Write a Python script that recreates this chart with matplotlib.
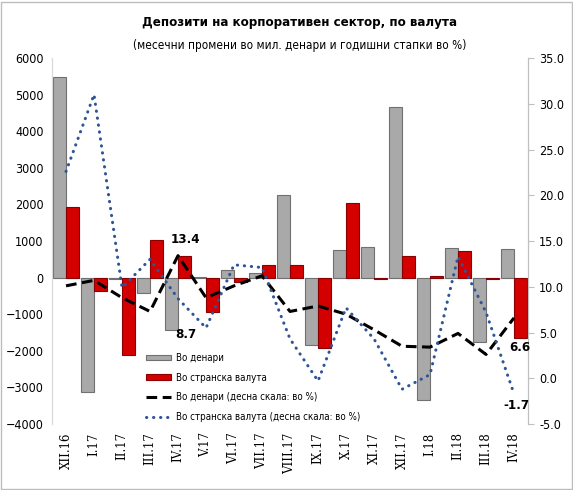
import matplotlib
matplotlib.use("Agg")
import matplotlib.pyplot as plt
import numpy as np

months = ["XII.16", "I.17", "II.17", "III.17", "IV.17", "V.17", "VI.17", "VII.17",
          "VIII.17", "IX.17", "X.17", "XI.17", "XII.17", "I.18", "II.18", "III.18", "IV.18"]

# monthly changes, mil. denars (left axis)
denars = [5480, -3120, -40, -420, -1430, 30, 210, 125,
          2260, -1840, 760, 840, 4670, -3340, 800, -1750, 780]
foreign = [1930, -360, -2110, 1030, 580, -940, -110, 345,
           345, -1930, 2040, -25, 590, 40, 720, -40, -1660]

# annual growth rates, % (right axis)
denars_rate = [10.1, 10.7, 8.8, 7.3, 13.4, 8.8, 10.1, 11.2,
               7.3, 7.9, 7.0, 5.3, 3.5, 3.4, 4.9, 2.6, 6.6]
foreign_rate = [22.6, 31.0, 9.9, 13.0, 8.7, 5.5, 12.4, 12.1,
                4.3, -0.3, 7.7, 4.3, -1.2, 0.4, 13.3, 7.2, -1.7]

title = "Депозити на корпоративен сектор, по валута"
subtitle = "(месечни промени во мил. денари и годишни стапки во %)"

FONT = dict(family="DejaVu Sans", stretch="condensed")

fig = plt.figure(figsize=(5.73, 4.9), dpi=100)
ax = fig.add_axes([0.0908, 0.1347, 0.8307, 0.7469])
ax2 = ax.twinx()

x = np.arange(len(months))
w = 0.475
ax.bar(x - w / 2, denars, w, color="#a9a9a9", edgecolor="#707070", linewidth=0.8,
       label="Во денари", zorder=2)
ax.bar(x + w / 2, foreign, w, color="#d40000", edgecolor="#8a0000", linewidth=0.8,
       label="Во странска валута", zorder=2)
ax.axhline(0, color="#d9d9d9", lw=0.8, zorder=1)

l1, = ax2.plot(x, denars_rate, color="black", lw=2.2, dashes=(3.5, 1.8),
               label="Во денари (десна скала: во %)")
l2, = ax2.plot(x, foreign_rate, color="#2f5597", lw=2.2, linestyle=(0, (0.1, 2.2)),
               dash_capstyle="round", label="Во странска валута (десна скала: во %)")

ax.set_xlim(-0.5, len(months) - 0.5)
ax.set_ylim(-4000, 6000)
ax.set_yticks(range(-4000, 6001, 1000))
ax2.set_ylim(-5, 35)
ax2.set_yticks(np.arange(-5, 35.1, 5))
ax2.set_yticklabels([f"{v:.1f}" for v in np.arange(-5, 35.1, 5)])

ax.set_xticks(x)
ax.set_xticklabels(months, rotation=90, family="DejaVu Serif", fontsize=8.5)
ax.tick_params(axis="x", length=0, pad=6)
ax.tick_params(axis="y", length=0, pad=6)
ax2.tick_params(axis="y", length=4, color="#bfbfbf", pad=4)
for lab in ax.get_yticklabels() + ax2.get_yticklabels():
    lab.set_fontproperties(dict(FONT, size=9))

for a in (ax, ax2):
    for s in ("top", "bottom"):
        a.spines[s].set_visible(False)
    a.spines["left"].set_color("#d9d9d9")
    a.spines["right"].set_color("#bfbfbf")

ax.set_zorder(ax2.get_zorder() - 1)
ax2.patch.set_visible(False)

lab_kw = dict(fontsize=9.5, fontweight="bold", ha="center", **FONT)
ax2.annotate(f"{denars_rate[4]:.1f}", (x[4], denars_rate[4]), xytext=(5, 7),
             textcoords="offset points", va="bottom", **lab_kw)
ax2.annotate(f"{foreign_rate[4]:.1f}", (x[4], foreign_rate[4]), xytext=(6, -21),
             textcoords="offset points", va="top", **lab_kw)
ax2.annotate(f"{denars_rate[-1]:.1f}", (x[-1], denars_rate[-1]), xytext=(4, -17),
             textcoords="offset points", va="top", **lab_kw)
ax2.annotate(f"{foreign_rate[-1]:.1f}", (x[-1], foreign_rate[-1]), xytext=(2, -4),
             textcoords="offset points", va="top", **lab_kw)

h1, lb1 = ax.get_legend_handles_labels()
leg = ax2.legend(h1 + [l1, l2], lb1 + [l1.get_label(), l2.get_label()],
                 loc="upper left", bbox_to_anchor=(0.19, 0.205), frameon=False,
                 prop=dict(FONT, size=7), handlelength=2.5, handletextpad=0.5,
                 handleheight=0.5, labelspacing=1.0, borderaxespad=0)

fig.text(0.523, 0.955, title, ha="center", va="center", fontsize=9.5,
         fontweight="bold", **FONT)
fig.text(0.523, 0.908, subtitle, ha="center", va="center", fontsize=8.5, **FONT)

fig.patches.append(plt.Rectangle((0.002, 0.002), 0.996, 0.994, transform=fig.transFigure,
                                 fill=False, edgecolor="#bdbdbd", lw=1))

fig.savefig("out.png", dpi=100)
